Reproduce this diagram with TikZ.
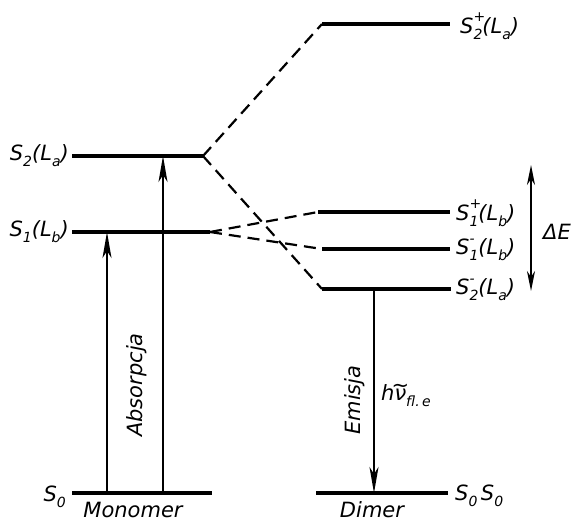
\documentclass[tikz,border=0pt]{standalone}
\usepackage{fontspec}
\setmainfont{DejaVu Sans}
\usetikzlibrary{arrows.meta}
% index and sign sizes
\newcommand\idx[1]{{\fontsize{14}{14}\selectfont #1}}
% state label: S with index #1 and optional sign #2 above it
\newcommand\stlab[2]{S\rlap{\raisebox{0.55em}{\idx{#2}}}\raisebox{-0.28em}{\idx{#1}}}
\newcommand\orb[1]{(L\raisebox{-0.28em}{\idx{#1}})}
% wavenumber symbol: nu with a tilde above
\newcommand\wnum{\ooalign{ν\cr\hidewidth\raisebox{0.42em}{\textasciitilde}\hidewidth\cr}}
\begin{document}
\begin{tikzpicture}[x=1pt,y=-1pt,
  level/.style={line width=3.2pt},
  link/.style={line width=2.2pt, dash pattern=on 12pt off 7pt},
  trans/.style={line width=1.8pt, -{Stealth[length=26pt,width=9pt,inset=7pt]}},
  gap/.style={line width=1.8pt, {Stealth[length=20pt,width=8pt,inset=6pt]}-{Stealth[length=20pt,width=8pt,inset=6pt]}},
  lab/.style={font=\itshape\fontsize{21}{24}\selectfont, inner sep=0pt}]
\useasboundingbox (0,0) rectangle (576,524);

% monomer levels
\coordinate (m0a) at (72,493);  \coordinate (m0b) at (212,493);
\coordinate (m1a) at (72,232);  \coordinate (m1b) at (210,232);
\coordinate (m2a) at (72,156);  \coordinate (m2b) at (203,156);
% dimer levels
\coordinate (d2pa) at (322,24);  \coordinate (d2pb) at (450,24);
\coordinate (d1pa) at (318,212); \coordinate (d1pb) at (450,212);
\coordinate (d1ma) at (322,249); \coordinate (d1mb) at (450,249);
\coordinate (d2ma) at (322,289); \coordinate (d2mb) at (451,289);
\coordinate (d0a) at (316,493);  \coordinate (d0b) at (448,493);

\draw[level] (m0a) -- (m0b);
\draw[level] (m1a) -- (m1b);
\draw[level] (m2a) -- (m2b);
\draw[level] (d2pa) -- (d2pb);
\draw[level] (d1pa) -- (d1pb);
\draw[level] (d1ma) -- (d1mb);
\draw[level] (d2ma) -- (d2mb);
\draw[level] (d0a) -- (d0b);

% correlation lines
\draw[link] (m2b) -- (d2pa);
\draw[link] (m2b) -- (d2ma);
\draw[link] (m1b) -- (d1pa);
\draw[link] (m1b) -- (d1ma);

% transitions
\coordinate (ab1s) at (107,493); \coordinate (ab1e) at (107,232);
\coordinate (ab2s) at (163,493); \coordinate (ab2e) at (163,156);
\coordinate (ems) at (374,289);  \coordinate (eme) at (374,493);
\draw[trans] (ab1s) -- (ab1e);
\draw[trans] (ab2s) -- (ab2e);
\draw[trans] (ems) -- (eme);
\coordinate (dEt) at (531,165); \coordinate (dEb) at (531,291);
\draw[gap] (dEt) -- (dEb);

% labels
\node[lab, anchor=east] (lS2) at (69,156) {\stlab{2}{}\orb{a}};
\node[lab, anchor=east] (lS1) at (69,232) {\stlab{1}{}\orb{b}};
\node[lab, anchor=east] (lS0) at (66,497) {\stlab{0}{}};
\node[lab, anchor=west] (lD2p) at (460,26) {\stlab{2}{+}\orb{a}};
\node[lab, anchor=west] (lD1p) at (456,213) {\stlab{1}{+}\orb{b}};
\node[lab, anchor=west] (lD1m) at (456,250) {\stlab{1}{-}\orb{b}};
\node[lab, anchor=west] (lD2m) at (456,290) {\stlab{2}{-}\orb{a}};
\node[lab, anchor=west] (lD0) at (455,496) {\stlab{0}{}\,\stlab{0}{}};
\node[lab] (mono) at (133,510) {Monomer};
\node[lab] (dim) at (372,510) {Dimer};
\node[lab, rotate=90] (abs) at (137,385) {Absorpcja};
\node[lab, rotate=90] (emi) at (355,400) {Emisja};
\node[lab, anchor=west] (hnu) at (381,396) {h\wnum\raisebox{-0.28em}{\idx{fl.\,e}}};
\node[lab, anchor=west] (dE) at (543,232) {ΔE};
\end{tikzpicture}
\end{document}
